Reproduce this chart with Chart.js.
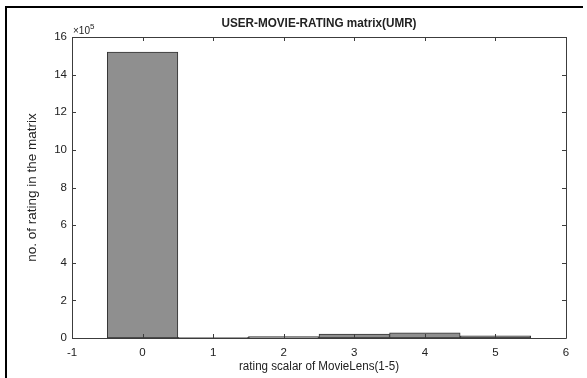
<!DOCTYPE html>
<html>
<head>
<meta charset="utf-8">
<script src="https://cdn.jsdelivr.net/npm/chart.js@4"></script>
<style>
  html, body { margin: 0; padding: 0; background: #fff; }
  #wrap { position: relative; width: 587px; height: 378px; }
</style>
</head>
<body>
<div id="wrap"><canvas id="c" width="587" height="378"></canvas></div>
<script>
// Rating values on the MovieLens scale (0 = unrated cell)
const ratings = [0, 1, 2, 3, 4, 5];
// Number of matrix cells holding each rating, in units of 10^5
const counts = [15.2, 0.04, 0.08, 0.21, 0.28, 0.12];
const xTickValues = [-1, 0, 1, 2, 3, 4, 5, 6];
const yTickValues = [0, 2, 4, 6, 8, 10, 12, 14, 16];

const titleText = 'USER-MOVIE-RATING matrix(UMR)';
const xTitle = 'rating scalar of MovieLens(1-5)';
const yTitle = 'no. of rating in the matrix';

const FONT = "'Liberation Sans', Arial, Helvetica, sans-serif";
const INK = '#222222';
const AXIS = '#3c3c3c';

// Draw text centred at (x, y), narrowed if wider than maxW
function fitText(ctx, text, x, y, maxW) {
  const w = ctx.measureText(text).width;
  const k = Math.min(1, maxW / w);
  ctx.save();
  ctx.translate(x, y);
  ctx.scale(k, 1);
  ctx.fillText(text, 0, 0);
  ctx.restore();
}

// Axis box with inward ticks on all four sides, plus titles and exponent
const boxPlugin = {
  id: 'matlabBox',
  afterDatasetsDraw(chart) {
    const { ctx, chartArea: a, scales } = chart;
    const xs = scales.x, ys = scales.y;
    const tl = 4;
    ctx.save();
    ctx.strokeStyle = AXIS;
    ctx.lineWidth = 1;
    ctx.beginPath();
    ctx.rect(Math.round(a.left) + 0.5, Math.round(a.top) + 0.5,
             Math.round(a.right - a.left), Math.round(a.bottom - a.top));
    ctx.stroke();
    ctx.beginPath();
    xTickValues.forEach(v => {
      const px = Math.round(xs.getPixelForValue(v)) + 0.5;
      ctx.moveTo(px, a.bottom); ctx.lineTo(px, a.bottom - tl);
      ctx.moveTo(px, a.top); ctx.lineTo(px, a.top + tl);
    });
    yTickValues.forEach(v => {
      const py = Math.round(ys.getPixelForValue(v)) + 0.5;
      ctx.moveTo(a.left, py); ctx.lineTo(a.left + tl, py);
      ctx.moveTo(a.right, py); ctx.lineTo(a.right - tl, py);
    });
    ctx.stroke();

    ctx.fillStyle = INK;
    ctx.textAlign = 'center';
    ctx.textBaseline = 'middle';
    const cx = (a.left + a.right) / 2;
    // chart title
    ctx.font = 'bold 12.5px ' + FONT;
    fitText(ctx, titleText, cx, 24, 195);
    // x axis title
    ctx.font = '12.5px ' + FONT;
    fitText(ctx, xTitle, cx, 367, 160);
    // y axis title
    ctx.save();
    ctx.translate(32, (a.top + a.bottom) / 2);
    ctx.rotate(-Math.PI / 2);
    ctx.font = '13.5px ' + FONT;
    fitText(ctx, yTitle, 0, 0, 154);
    ctx.restore();
    // exponent marker
    ctx.textAlign = 'left';
    ctx.font = '10px ' + FONT;
    ctx.fillText('\u00d710', a.left + 1, 31);
    ctx.font = '8px ' + FONT;
    ctx.fillText('5', a.left + 18, 27);
    ctx.restore();
  }
};

// Outer frame lines along the top and left edge
const framePlugin = {
  id: 'frame',
  afterDraw(chart) {
    const ctx = chart.ctx;
    ctx.save();
    ctx.fillStyle = '#000';
    ctx.fillRect(5, 6, 578, 2);
    ctx.fillRect(5, 6, 2, 372);
    ctx.restore();
  }
};

new Chart(document.getElementById('c'), {
  type: 'bar',
  data: {
    datasets: [{
      data: ratings.map((r, i) => ({ x: r, y: counts[i] })),
      backgroundColor: '#8f8f8f',
      borderColor: '#333333',
      borderWidth: 1,
      borderSkipped: false,
      barPercentage: 1,
      categoryPercentage: 1
    }]
  },
  options: {
    responsive: false,
    animation: false,
    devicePixelRatio: 1,
    layout: { padding: { left: 0, top: 37, right: 21, bottom: 0 } },
    plugins: {
      legend: { display: false },
      tooltip: { enabled: false }
    },
    scales: {
      x: {
        type: 'linear',
        offset: false,
        min: -1, max: 6,
        afterBuildTicks: s => { s.ticks = xTickValues.map(v => ({ value: v })); },
        afterFit: s => { s.height = 40; },
        grid: { display: false, drawTicks: false, offset: false },
        border: { display: false },
        ticks: { padding: 8, color: INK, font: { family: FONT, size: 11.5 }, maxRotation: 0 }
      },
      y: {
        type: 'linear',
        min: 0, max: 16,
        afterBuildTicks: s => { s.ticks = yTickValues.map(v => ({ value: v })); },
        afterFit: s => { s.width = 72; },
        grid: { display: false, drawTicks: false },
        border: { display: false },
        ticks: { padding: 5, color: INK, font: { family: FONT, size: 11.5 } }
      }
    }
  },
  plugins: [boxPlugin, framePlugin]
});
</script>
</body>
</html>
